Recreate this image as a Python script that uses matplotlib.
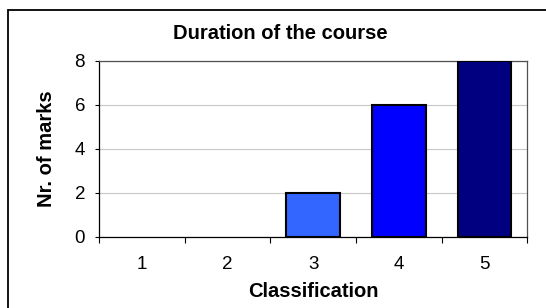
import matplotlib
matplotlib.use('Agg')
import matplotlib.pyplot as plt
from matplotlib.patches import Rectangle
import numpy as np

plt.rcParams['font.family'] = ['Liberation Sans', 'DejaVu Sans']

# data
classes = ['1', '2', '3', '4', '5']
marks = [0, 0, 2, 6, 8]

bar_colors = ['#3366FF', '#3366FF', '#3366FF', '#0000FF', '#000080']

fig = plt.figure(figsize=(5.46, 3.08), dpi=100)
ax = fig.add_axes([0.1813, 0.2315, 0.7845, 0.5705])

x = np.arange(1, len(classes) + 1)
# empty categories get no outline (Excel draws nothing there)
edge_widths = [1.5 if v > 0 else 0 for v in marks]
ax.bar(x, marks, width=0.63, color=bar_colors, edgecolor='black',
       linewidth=edge_widths, zorder=3)

ax.set_xlim(0.5, len(classes) + 0.5)
ax.set_ylim(0, 8)
ax.set_yticks(np.arange(0, 9, 2))
ax.yaxis.grid(True, color='#C8C8C8', linewidth=0.8, zorder=0)

# ticks on the category borders, labels in the middle
ax.set_xticks(np.arange(0.5, len(classes) + 1, 1.0))
ax.set_xticklabels([])
ax.set_xticks(x, minor=True)
ax.set_xticklabels(classes, minor=True)
ax.tick_params(axis='x', which='major', direction='out', length=4, width=0.8, color='black')
ax.tick_params(axis='x', which='minor', length=0, pad=14, labelsize=13.5)
ax.tick_params(axis='y', direction='out', length=3, width=0.8, pad=7, labelsize=13.5)

for side in ['top', 'right']:
    ax.spines[side].set_color('#505050')
    ax.spines[side].set_linewidth(0.9)
for side in ['left', 'bottom']:
    ax.spines[side].set_color('black')
    ax.spines[side].set_linewidth(0.9)

fig.text(0.514, 0.8906, 'Duration of the course', ha='center', va='center',
         fontsize=14.5, fontweight='bold')
fig.text(0.086, 0.518, 'Nr. of marks', ha='center', va='center', rotation=90,
         fontsize=14.5, fontweight='bold')
fig.text(0.5735, 0.052, 'Classification', ha='center', va='center',
         fontsize=14.5, fontweight='bold')

# outer chart frame, cut off at the right and bottom
fig.patches.append(Rectangle((7.5 / 546, -0.2), 1.2, 0.2 + 1 - 9.5 / 308,
                             transform=fig.transFigure, fill=False,
                             edgecolor='black', linewidth=1.3))

fig.savefig('out.png', dpi=100)
